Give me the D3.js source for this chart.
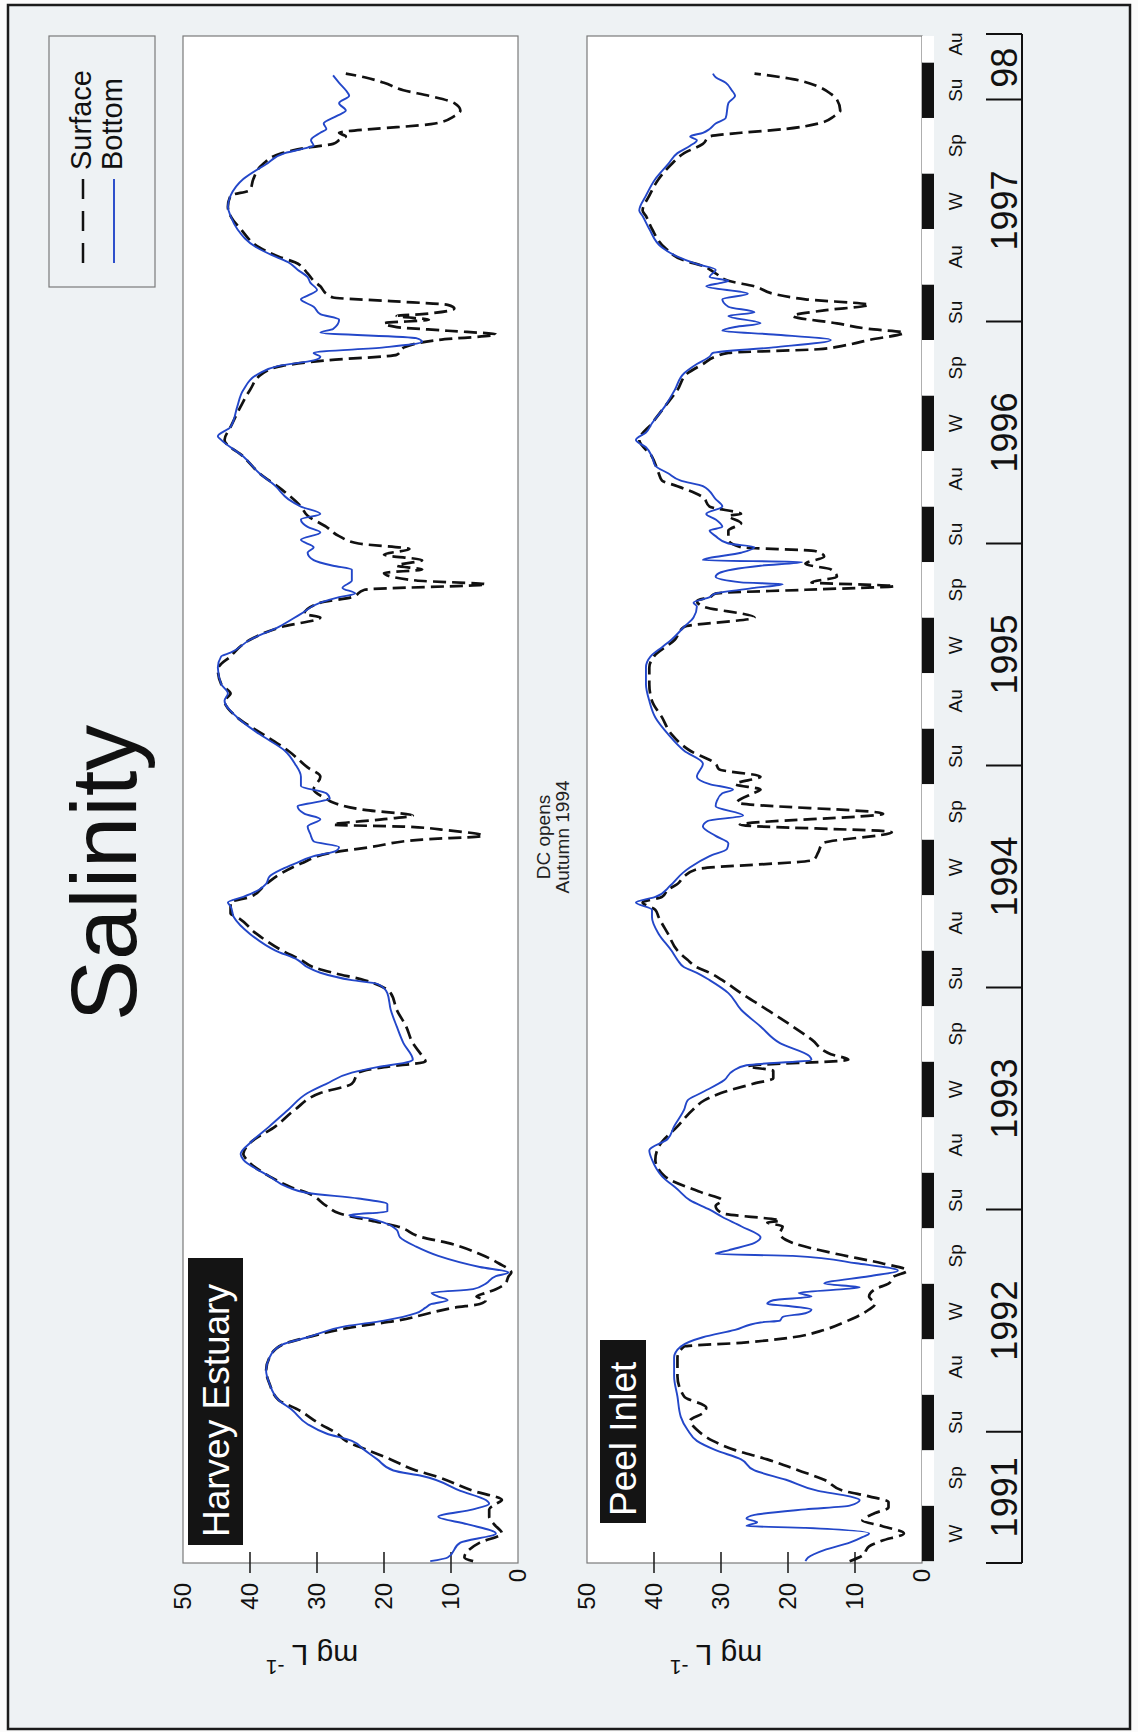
<!DOCTYPE html>
<html><head><meta charset="utf-8">
<script src="https://cdn.jsdelivr.net/npm/d3@7"></script>
<style>
html,body{margin:0;padding:0;background:#fff;}
svg{display:block;}
text{font-family:"Liberation Sans",Arial,Helvetica,sans-serif;}
</style>
</head><body>
<svg id="c" width="1138" height="1732"></svg>
<script>
// time = months since 1 June 1991 (start of Winter 1991); value = salinity
const harveySurface = [[0,6.7],[0.2,8.0],[1.0,5.7],[1.5,2.4],[2.0,3.6],[2.4,4.3],[2.8,4.3],[3.1,3.3],[3.3,2.4],[3.8,6.7],[4.6,12.4],[4.9,15.2],[5.5,19.0],[6.0,22.4],[6.5,25.7],[6.9,27.0],[7.4,29.5],[8.2,32.9],[8.7,35.7],[9.6,37.1],[10.3,37.6],[11.0,37.1],[11.7,35.2],[12.1,31.4],[12.7,23.8],[13.0,18.0],[13.4,13.3],[13.7,9.5],[13.9,5.7],[14.1,4.8],[14.3,6.2],[14.5,4.8],[14.7,3.3],[15.0,1.9],[15.4,1.4],[15.6,1.0],[16.1,2.9],[16.6,5.7],[17.2,10.5],[17.5,14.3],[18.1,18.1],[18.4,21.9],[18.8,26.7],[19.2,28.6],[19.9,31.4],[20.2,33.8],[20.8,37.1],[21.7,40.5],[22.0,41.0],[22.6,40.0],[23.5,36.2],[24.4,33.3],[25.3,29.5],[25.8,24.8],[26.4,23.8],[26.7,20.0],[27.0,13.8],[27.3,14.3],[28.0,15.7],[28.9,16.7],[29.8,18.1],[30.7,19.0],[31.4,22.9],[31.8,27.6],[32.1,30.5],[32.5,32.4],[33.0,35.2],[33.9,39.0],[34.8,41.9],[35.0,42.9],[35.6,42.9],[35.9,40.0],[36.6,37.6],[37.2,35.2],[37.7,32.4],[38.3,27.6],[38.6,21.9],[39.0,14.3],[39.2,5.2],[39.5,10.5],[39.7,17.1],[39.8,27.6],[40.1,20.0],[40.3,15.7],[40.6,22.9],[41.0,27.6],[41.2,28.6],[41.7,30.5],[42.4,29.5],[42.9,31.4],[43.8,34.3],[44.7,38.1],[45.6,41.9],[46.5,43.8],[46.9,42.9],[47.4,44.3],[48.2,44.8],[48.5,44.3],[48.9,42.9],[49.1,42.4],[49.8,40.0],[50.5,35.2],[51.0,29.5],[51.2,31.9],[51.8,29.5],[52.1,24.8],[52.5,22.9],[52.8,4.8],[53.0,15.2],[53.4,20.0],[53.6,14.3],[53.8,18.1],[54.1,14.3],[54.4,20.0],[54.7,16.2],[55.0,23.8],[55.4,26.7],[55.9,28.6],[56.5,31.4],[57.0,32.4],[57.9,35.2],[58.8,38.6],[59.7,41.0],[60.6,43.8],[61.3,42.9],[62.4,41.4],[63.3,40.0],[64.2,38.1],[64.6,35.2],[64.9,28.6],[65.2,18.1],[65.6,17.0],[66.0,12.0],[66.3,3.3],[66.5,10.5],[66.7,18.1],[66.9,20.0],[67.1,13.3],[67.3,18.1],[67.4,14.3],[67.7,9.5],[67.9,10.5],[68.1,19.0],[68.3,27.6],[68.5,28.6],[68.9,29.5],[69.2,30.5],[69.6,31.4],[70.2,33.3],[70.5,35.7],[71.0,38.6],[72.0,41.4],[72.7,42.9],[73.2,43.3],[73.8,42.9],[74.1,40.0],[74.7,39.5],[75.5,38.1],[76.1,35.2],[76.4,31.4],[76.6,27.6],[76.8,26.7],[77.0,25.7],[77.2,26.7],[77.4,21.9],[77.5,18.1],[77.7,12.4],[78.1,9.5],[78.4,8.6],[78.8,9.5],[79.2,13.3],[79.5,17.1],[79.9,20.0],[80.2,22.9],[80.4,25.7]];

const harveyBottom = [[0,13.1],[0.2,10.5],[1.0,8.6],[1.5,3.3],[2.0,7.6],[2.4,11.9],[2.8,6.7],[3.1,4.3],[3.3,4.8],[3.8,8.6],[4.6,14.3],[4.9,18.6],[5.5,21.0],[6.0,22.9],[6.5,24.8],[6.9,28.6],[7.4,31.4],[8.2,33.8],[8.7,35.7],[9.6,37.1],[10.3,37.6],[11.0,37.1],[11.7,35.2],[12.1,31.4],[12.7,25.7],[13.0,20.0],[13.4,15.2],[13.7,13.8],[13.9,12.9],[14.1,10.5],[14.3,11.9],[14.5,12.9],[14.7,6.7],[15.0,4.8],[15.4,3.3],[15.6,1.4],[15.9,5.7],[16.5,11.9],[17.0,15.2],[17.5,17.6],[17.9,18.1],[18.3,20.0],[18.5,21.9],[18.7,25.2],[18.9,19.5],[19.3,19.5],[19.6,23.8],[19.9,31.4],[20.2,34.3],[20.8,37.1],[21.7,41.0],[22.0,41.4],[22.6,40.0],[23.5,37.1],[24.4,34.3],[25.3,31.4],[25.8,28.6],[26.4,24.8],[26.7,21.0],[27.0,16.2],[27.1,15.7],[28.0,17.1],[28.9,18.1],[29.8,19.0],[30.7,19.5],[31.2,21.0],[31.4,24.8],[31.8,29.5],[32.1,31.4],[32.5,32.9],[33.0,36.2],[33.9,40.0],[34.8,42.4],[35.4,42.9],[35.6,43.3],[35.9,41.0],[36.3,38.6],[36.6,37.6],[37.0,37.1],[37.4,35.2],[37.7,33.3],[38.1,30.5],[38.4,27.1],[38.6,26.7],[38.9,30.5],[39.3,31.0],[39.7,31.4],[40.1,29.5],[40.4,31.9],[40.8,32.9],[41.0,30.5],[41.2,28.1],[41.5,28.6],[41.9,32.4],[42.4,32.4],[43.1,33.3],[43.8,34.8],[44.7,38.6],[45.6,41.9],[46.5,43.8],[46.9,43.3],[47.4,44.3],[48.3,44.8],[48.9,44.3],[49.1,42.9],[49.8,40.0],[50.5,35.7],[51.2,32.4],[51.8,29.5],[52.1,26.7],[52.3,24.3],[52.6,26.2],[53.0,24.8],[53.6,24.8],[53.8,27.6],[54.1,30.5],[54.5,31.4],[54.8,30.5],[55.2,32.4],[55.6,29.5],[55.9,31.4],[56.3,32.4],[56.6,29.5],[57.0,32.4],[57.4,34.3],[58.1,36.2],[58.8,38.6],[59.7,41.0],[60.6,44.3],[60.8,44.8],[61.3,42.9],[62.4,41.9],[63.3,41.0],[64.2,38.6],[64.6,35.7],[64.9,30.5],[65.1,29.5],[65.3,30.5],[65.6,20.0],[65.9,14.3],[66.1,15.2],[66.4,29.5],[66.6,27.6],[67.1,26.7],[67.4,29.5],[67.8,30.5],[68.2,32.4],[68.4,31.4],[68.7,30.0],[69.1,31.0],[69.4,31.4],[69.8,32.9],[70.2,34.3],[70.5,36.2],[71.0,39.0],[72.0,41.9],[72.7,42.9],[73.2,43.3],[73.8,42.9],[74.7,41.0],[75.5,37.6],[76.1,34.8],[76.4,31.4],[76.5,30.5],[76.8,30.9],[77.2,29.5],[77.4,28.6],[77.7,29.0],[78.1,27.1],[78.4,25.7],[78.8,26.7],[79.2,25.2],[79.5,25.7],[79.9,26.7],[80.3,27.6]];

const peelSurface = [[0,10.8],[0.3,8.9],[0.8,7.9],[1.1,6.0],[1.5,2.7],[1.9,6.0],[2.2,8.9],[2.6,7.0],[2.9,5.0],[3.2,5.0],[3.5,7.9],[3.8,11.7],[4.4,14.6],[4.9,18.4],[5.5,23.1],[6.0,27.9],[6.5,31.2],[7.1,33.6],[7.6,34.6],[8.0,32.7],[8.3,32.2],[8.9,35.5],[10.0,36.5],[11.0,36.5],[11.6,35.5],[11.8,27.0],[12.1,19.3],[12.5,14.6],[12.9,11.7],[13.2,9.8],[13.6,7.9],[13.9,7.0],[14.3,7.9],[14.7,7.0],[15.0,5.0],[15.4,4.1],[15.7,2.2],[16.1,6.0],[16.6,12.7],[17.2,19.3],[17.7,21.2],[18.1,20.8],[18.3,23.1],[18.4,21.2],[18.8,29.8],[19.2,30.8],[19.5,29.8],[19.9,32.7],[20.8,38.4],[21.7,39.8],[22.4,39.3],[23.5,36.5],[24.4,34.2],[24.9,32.5],[25.3,30.0],[25.8,25.2],[26.1,22.2],[26.5,22.2],[26.75,26.0],[27.1,11.0],[27.4,13.6],[28.2,16.5],[28.9,19.3],[29.8,23.1],[30.7,27.0],[31.4,29.8],[31.8,31.7],[32.1,33.6],[32.5,35.0],[33.0,36.5],[33.9,37.9],[34.8,39.3],[35.2,39.8],[35.6,41.7],[35.9,38.8],[36.3,37.9],[36.6,36.5],[37.0,35.5],[37.4,33.6],[37.9,16.2],[38.3,15.5],[38.8,14.8],[39.4,4.5],[39.8,27.2],[40.4,5.8],[41.0,27.6],[41.5,25.2],[41.7,24.1],[42.0,27.9],[42.4,24.1],[42.8,30.3],[43.1,30.8],[43.8,34.6],[44.7,37.4],[45.6,38.8],[46.5,40.3],[47.4,40.7],[48.3,40.7],[48.9,40.0],[49.8,36.9],[50.5,35.5],[51.0,25.0],[51.6,32.7],[51.9,33.6],[52.1,31.7],[52.3,30.8],[52.5,17.4],[52.7,4.1],[52.9,16.5],[53.2,12.7],[53.6,13.6],[53.9,17.4],[54.3,14.6],[54.6,16.0],[54.8,27.0],[55.2,28.9],[55.7,28.9],[56.1,27.0],[56.5,28.9],[56.6,27.0],[57.0,31.7],[57.5,32.7],[58.1,36.5],[58.4,38.8],[58.8,39.3],[59.7,40.3],[60.6,42.2],[61.5,40.3],[62.4,38.4],[63.3,36.5],[64.2,35.0],[64.7,32.7],[65.1,30.8],[65.3,28.9],[65.5,15.5],[65.7,11.7],[66.0,7.9],[66.4,2.7],[66.6,7.9],[66.9,12.7],[67.3,19.3],[67.6,14.6],[67.9,7.9],[68.2,17.4],[68.5,22.2],[68.9,25.0],[69.2,28.9],[69.6,30.8],[70.0,32.7],[70.3,35.5],[71.0,38.4],[72.0,40.3],[72.7,41.2],[73.0,41.7],[73.8,40.7],[74.7,39.3],[75.5,37.4],[76.1,35.5],[76.6,32.7],[77.0,31.7],[77.2,27.0],[77.4,20.5],[77.7,15.5],[78.1,13.1],[78.4,12.2],[79.0,12.7],[79.3,13.6],[79.7,15.5],[80.1,19.3],[80.4,25.0]];

const peelBottom = [[0,17.4],[0.2,17.0],[0.6,14.6],[1.0,10.8],[1.3,8.9],[1.5,7.9],[1.8,17.4],[1.9,26.2],[2.1,24.6],[2.3,26.2],[2.5,25.0],[2.8,17.4],[3.0,10.8],[3.3,9.3],[3.5,10.8],[3.8,15.5],[4.4,20.3],[4.9,25.0],[5.5,27.0],[6.0,30.8],[6.5,33.6],[7.1,35.0],[7.8,36.0],[8.9,36.5],[10.0,37.0],[11.0,37.0],[11.6,36.0],[12.1,32.7],[12.5,27.9],[12.9,24.1],[13.0,21.2],[13.2,20.8],[13.4,17.4],[13.6,16.5],[13.8,20.3],[13.9,23.1],[14.1,22.2],[14.3,16.5],[14.5,18.4],[14.7,11.7],[14.8,9.3],[15.0,14.6],[15.4,7.9],[15.7,3.6],[16.1,9.8],[16.5,19.3],[16.6,30.8],[16.8,28.9],[17.2,25.0],[17.5,24.1],[18.1,27.0],[18.6,29.8],[19.0,31.7],[19.5,34.6],[20.1,36.5],[20.8,38.8],[21.7,40.3],[22.2,40.7],[22.8,38.0],[23.5,37.0],[24.4,35.5],[24.9,35.0],[25.3,33.0],[26.0,29.5],[26.5,28.2],[26.8,26.2],[27.1,16.5],[27.3,16.8],[28.0,21.2],[28.9,24.1],[29.8,27.0],[30.7,28.9],[31.4,31.7],[31.8,33.6],[32.1,35.5],[32.5,36.5],[33.0,37.4],[33.9,39.3],[34.8,40.3],[35.2,40.3],[35.6,42.7],[35.9,39.8],[36.5,37.6],[37.2,35.7],[37.5,34.6],[38.1,31.7],[38.5,29.1],[38.8,28.9],[39.2,30.8],[39.7,32.7],[40.0,32.0],[40.3,26.7],[40.8,30.8],[41.1,30.6],[41.5,29.8],[41.7,28.2],[42.0,31.7],[42.4,33.6],[43.1,32.7],[43.8,35.5],[44.7,37.9],[45.6,39.8],[46.5,40.7],[47.4,41.2],[48.3,41.2],[48.9,40.5],[49.4,38.8],[49.8,37.4],[50.5,35.5],[51.0,34.1],[51.6,33.6],[51.8,34.1],[52.1,31.7],[52.3,30.8],[52.6,25.0],[52.8,20.8],[52.9,27.0],[53.2,30.8],[53.4,30.3],[53.8,24.1],[54.0,17.9],[54.1,32.7],[54.5,27.0],[54.8,25.0],[55.0,28.9],[55.4,30.8],[55.7,31.7],[55.9,29.8],[56.3,30.8],[56.6,32.2],[57.0,29.8],[57.4,30.8],[58.1,32.7],[58.4,36.0],[58.8,37.9],[59.2,39.8],[59.7,40.3],[60.2,41.2],[60.6,42.7],[61.0,41.2],[61.5,40.3],[62.4,38.4],[63.3,36.9],[64.2,35.5],[64.7,33.6],[65.1,31.7],[65.3,31.2],[65.6,22.2],[66.0,13.6],[66.3,22.2],[66.5,29.8],[66.7,27.9],[66.9,24.1],[67.3,28.9],[67.5,25.0],[67.8,28.9],[68.2,29.8],[68.5,26.0],[68.9,32.2],[69.1,29.8],[69.2,28.9],[69.4,31.7],[69.8,30.8],[70.1,33.6],[70.5,36.5],[71.0,38.8],[72.0,40.7],[72.7,41.7],[73.0,42.2],[73.8,41.2],[74.7,39.8],[75.5,37.9],[76.1,36.5],[76.5,34.6],[76.8,33.6],[77.0,34.6],[77.2,32.7],[77.4,31.7],[77.7,30.8],[78.0,29.3],[78.8,28.9],[79.2,27.9],[79.5,28.4],[79.9,29.3],[80.2,30.8],[80.4,31.2]];

const seasonNames = ["W","Sp","Su","Au"];
const seasonStarts = [0,3,6,9,12,15,18,21,24,27,30,33,36,39,42,45,48,51,54,57,60,63,66,69,72,75,78,81];
const yearBoundaries = [7,19,31,43,55,67,79];
const yearLabels = ["1991","1992","1993","1994","1995","1996","1997","98"];
const salinityTicks = [0,10,20,30,40,50];
const monthDomain = [-0.1, 82.43];
const legendLabels = ["Surface","Bottom"];
const titleText = "Salinity";
const noteLines = ["DC opens","Autumn 1994"];

const BLUE = "#2347c9";
const svg = d3.select("#c");
svg.append("rect").attr("width",1138).attr("height",1732).attr("fill","#fbfbfb");
// whole chart is drawn landscape and rotated -90deg
const g = svg.append("g").attr("transform","rotate(-90) translate(-1732,0)");

g.append("rect").attr("x",3).attr("y",8).attr("width",1724).attr("height",1122)
  .attr("fill","#eef2f4").attr("stroke","#1b1b1b").attr("stroke-width",2.5);

const x = d3.scaleLinear().domain(monthDomain).range([169,1696]);
const xEnd = monthDomain[1];

const panels = [
  {label:"Harvey Estuary", surface:harveySurface, bottom:harveyBottom, top:183, bot:518,
   box:{x:187,y:188,w:287,h:55,tx:195,ty:229}, unitY:312},
  {label:"Peel Inlet", surface:peelSurface, bottom:peelBottom, top:587, bot:922,
   box:{x:209,y:600,w:183,h:46,tx:216,ty:636}, unitY:716}
];

panels.forEach(p => {
  const y = d3.scaleLinear().domain([0,50]).range([p.bot,p.top]);
  const pg = g.append("g");
  pg.append("rect").attr("x",x.range()[0]).attr("y",p.top)
    .attr("width",x.range()[1]-x.range()[0]).attr("height",p.bot-p.top)
    .attr("fill","#fff").attr("stroke","#7a7a7a").attr("stroke-width",1.2);

  // axis labels via d3 axis
  const ax = pg.append("g").attr("transform",`translate(${x.range()[0]},0)`)
    .call(d3.axisLeft(y).tickValues(salinityTicks).tickSize(0).tickPadding(20).tickFormat(d3.format("d")));
  ax.select(".domain").remove();
  ax.selectAll("text").attr("font-size",24).attr("fill","#111")
    .attr("font-family",'"Liberation Sans",Arial,sans-serif')
    .attr("dx", d => d===0 ? 14 : 0);
  // crossing tick marks
  pg.selectAll(".tk").data(salinityTicks.filter(v => v>0 && v<50)).enter().append("line")
    .attr("x1",x.range()[0]-10).attr("x2",x.range()[0]+11)
    .attr("y1",d=>y(d)).attr("y2",d=>y(d)).attr("stroke","#222").attr("stroke-width",1.6);

  // unit label
  const ut = pg.append("text").attr("transform",`translate(87,${p.unitY}) rotate(-90)`)
    .attr("text-anchor","middle").attr("font-size",30).attr("fill","#111");
  ut.append("tspan").text("mg L ");
  ut.append("tspan").attr("font-size",21).attr("dy",-15).text("-1");

  const line = d3.line().x(d=>x(d[0])).y(d=>y(d[1])).curve(d3.curveMonotoneX);
  pg.append("path").datum(p.surface).attr("d",line).attr("fill","none")
    .attr("stroke","#111").attr("stroke-width",2.7).attr("stroke-dasharray","13,6");
  pg.append("path").datum(p.bottom).attr("d",line).attr("fill","none")
    .attr("stroke",BLUE).attr("stroke-width",1.9);

  pg.append("rect").attr("x",p.box.x).attr("y",p.box.y).attr("width",p.box.w).attr("height",p.box.h).attr("fill","#141414");
  pg.append("text").attr("x",p.box.tx).attr("y",p.box.ty).attr("font-size",37).attr("fill","#fff").text(p.label);
});

// season bar
const sb = g.append("g");
seasonStarts.forEach((s,i) => {
  const name = seasonNames[i%4];
  const e = Math.min(s+3, xEnd);
  sb.append("rect").attr("x",x(s)).attr("y",922).attr("width",x(e)-x(s)).attr("height",12)
    .attr("fill", (name==="W"||name==="Su") ? "#111" : "#fff");
  const c = Math.min(s+1.5, 82.0);
  sb.append("text").attr("x",x(c)).attr("y",962).attr("text-anchor","middle")
    .attr("font-size",19).attr("fill","#111").text(name);
});

// year axis
const ya = g.append("g").attr("stroke","#111").attr("stroke-width",2);
ya.append("line").attr("x1",x.range()[0]).attr("x2",x.range()[1]+2).attr("y1",1022).attr("y2",1022);
const yb = [monthDomain[0]].concat(yearBoundaries, [xEnd]);
yb.forEach((b,i) => {
  const xx = i===yb.length-1 ? x(b)+2 : x(b);
  ya.append("line").attr("x1",xx).attr("x2",xx).attr("y1",986).attr("y2",1022);
});
yearLabels.forEach((lab,i) => {
  g.append("text").attr("x",x((yb[i]+yb[i+1])/2)).attr("y",1017).attr("text-anchor","middle")
    .attr("font-size",36).attr("fill","#111").text(lab);
});

// title
g.append("text").attr("x",859).attr("y",136).attr("text-anchor","middle")
  .attr("font-size",92).attr("fill","#111").text(titleText);

// note
noteLines.forEach((t,i) => {
  g.append("text").attr("x",895).attr("y",550+i*19).attr("text-anchor","middle")
    .attr("font-size",19).attr("fill","#222").text(t);
});

// legend
const lg = g.append("g");
lg.append("rect").attr("x",1445).attr("y",49).attr("width",251).attr("height",106)
  .attr("fill","none").attr("stroke","#7a7a7a").attr("stroke-width",1.2);
lg.append("line").attr("x1",1469).attr("x2",1553).attr("y1",83).attr("y2",83)
  .attr("stroke","#111").attr("stroke-width",2.5).attr("stroke-dasharray","20,12");
lg.append("line").attr("x1",1469).attr("x2",1553).attr("y1",114).attr("y2",114)
  .attr("stroke",BLUE).attr("stroke-width",1.9);
legendLabels.forEach((t,i) => {
  lg.append("text").attr("x",1562).attr("y",91+i*31).attr("font-size",29).attr("fill","#111").text(t);
});
</script>
</body></html>
